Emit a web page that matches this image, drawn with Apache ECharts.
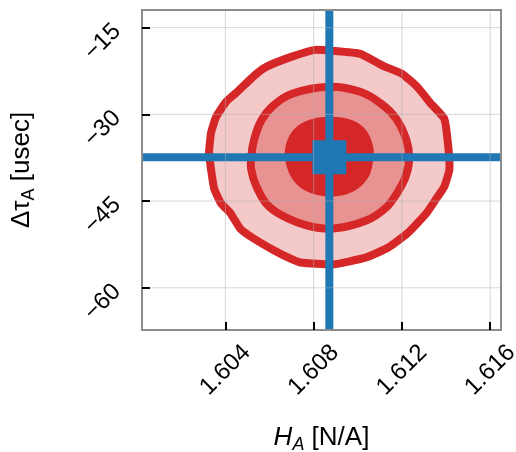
<!DOCTYPE html>
<html>
<head>
<meta charset="utf-8">
<script src="https://cdn.jsdelivr.net/npm/echarts@6/dist/echarts.min.js"></script>
<style>html,body{margin:0;padding:0;background:#fff}#c{width:516px;height:452px}</style>
</head>
<body>
<div id="c"></div>
<script>
// axis ranges and ticks
const xRange = [1.60022, 1.61649];
const yRange = [-67.3, -11.95];
const xTicks = [1.604, 1.608, 1.612, 1.616];
const xTickLabels = ['1.604', '1.608', '1.612', '1.616'];
const yTicks = [-60, -45, -30, -15];
const yTickLabels = ['\u221260', '\u221245', '\u221230', '\u221215'];

// injected (true) values
const truthH = 1.60871;
const truthTau = -37.42;

// contour levels (outer -> inner), [H_A, dtau_A]
const contourOuter = [[1.60807,-18.85],[1.60888,-19.02],[1.61011,-19.54],[1.61115,-21.61],[1.61201,-22.99],[1.61269,-25.24],[1.61328,-28.00],[1.61392,-30.76],[1.61410,-35.59],[1.61415,-39.56],[1.61392,-42.50],[1.61356,-44.57],[1.61310,-47.16],[1.61224,-50.61],[1.61138,-53.03],[1.61038,-54.75],[1.60888,-55.96],[1.60739,-55.62],[1.60693,-54.93],[1.60621,-53.55],[1.60521,-51.30],[1.60467,-49.75],[1.60421,-46.99],[1.60381,-45.43],[1.60349,-42.84],[1.60335,-39.56],[1.60326,-36.63],[1.60335,-33.18],[1.60358,-30.42],[1.60403,-27.83],[1.60449,-26.27],[1.60535,-23.17],[1.60585,-21.78],[1.60698,-20.06]];
const contourMiddle = [[1.60870,-25.24],[1.61011,-26.10],[1.61106,-28.17],[1.61174,-30.76],[1.61220,-34.39],[1.61233,-37.49],[1.61220,-40.43],[1.61188,-43.02],[1.61133,-45.95],[1.61038,-48.37],[1.60888,-49.75],[1.60771,-49.23],[1.60657,-47.50],[1.60585,-45.43],[1.60539,-42.33],[1.60517,-39.56],[1.60517,-37.32],[1.60530,-34.39],[1.60562,-31.11],[1.60616,-28.52],[1.60702,-26.44]];
const contourInner = [[1.60870,-31.11],[1.60966,-31.62],[1.61024,-33.18],[1.61052,-35.77],[1.61052,-37.84],[1.61034,-40.43],[1.60975,-42.67],[1.60888,-43.53],[1.60784,-42.84],[1.60721,-40.94],[1.60689,-37.84],[1.60693,-35.25],[1.60725,-33.00],[1.60784,-31.62]];

const FONT = 'Liberation Sans, Arial, sans-serif';
const RED = '#d62728';
const BLUE = '#1f77b4';

function contourSeries(pts, fill, z, smooth) {
  return {
    type: 'custom', coordinateSystem: 'cartesian2d', z: z, silent: true,
    data: pts,
    renderItem: function (params, api) {
      if (params.dataIndex !== 0) return null;
      const poly = pts.map(p => api.coord(p));
      return {
        type: 'polygon',
        shape: { points: poly, smooth: smooth },
        style: { fill: fill, stroke: RED, lineWidth: 8, lineJoin: 'round' }
      };
    }
  };
}

const chart = echarts.init(document.getElementById('c'), null, { renderer: 'canvas' });
chart.setOption({
  animation: false,
  backgroundColor: '#fff',
  grid: { left: 142, top: 10, width: 359, height: 320, containLabel: false, outerBoundsMode: 'none',
    show: true, borderColor: '#8c8c8c', borderWidth: 2, backgroundColor: 'transparent', z: 20 },
  xAxis: {
    type: 'value', min: xRange[0], max: xRange[1],
    axisLine: { show: false },
    splitLine: { show: false },
    axisTick: { show: true, inside: true, length: 8, lineStyle: { color: '#000', width: 2 }, customValues: xTicks },
    axisLabel: { customValues: xTicks, rotate: 45, align: 'center', verticalAlign: 'middle', margin: 40,
      fontFamily: FONT, fontSize: 24, color: '#000',
      formatter: v => xTickLabels[xTicks.findIndex(t => Math.abs(t - v) < 1e-9)] },
    name: '{i|H}{s|A}{n| [N/A]}',
    nameLocation: 'middle', nameGap: 92,
    nameTextStyle: { fontFamily: FONT, color: '#000', verticalAlign: 'top',
      rich: {
        i: { fontFamily: FONT, fontSize: 26, fontStyle: 'italic', lineHeight: 32, color: '#000' },
        s: { fontFamily: FONT, fontSize: 18, fontStyle: 'italic', lineHeight: 16, verticalAlign: 'bottom', color: '#000' },
        n: { fontFamily: FONT, fontSize: 26, lineHeight: 32, color: '#000' }
      } },
    z: 30
  },
  yAxis: {
    type: 'value', min: yRange[0], max: yRange[1],
    axisLine: { show: false },
    splitLine: { show: false },
    axisTick: { show: true, inside: true, length: 8, lineStyle: { color: '#000', width: 2 }, customValues: yTicks },
    axisLabel: { customValues: yTicks, rotate: 45, margin: 25,
      fontFamily: FONT, fontSize: 24, color: '#000',
      formatter: v => yTickLabels[yTicks.findIndex(t => Math.abs(t - v) < 1e-9)] },
    name: '{n|\u0394\u03c4}{s|A}{n| [usec]}',
    nameLocation: 'middle', nameGap: 104, nameRotate: 90,
    nameTextStyle: { fontFamily: FONT, color: '#000',
      rich: {
        s: { fontFamily: FONT, fontSize: 18, lineHeight: 16, verticalAlign: 'bottom', color: '#000' },
        n: { fontFamily: FONT, fontSize: 26, lineHeight: 32, color: '#000' }
      } },
    z: 30
  },
  series: [
    contourSeries(contourOuter, '#f3c9ca', 2, 0.15),
    contourSeries(contourMiddle, '#e89291', 3, 0.3),
    contourSeries(contourInner, RED, 4, 0.3),
    { type: 'line', z: 5, symbol: 'none', silent: true, data: [[truthH, yRange[0]], [truthH, yRange[1]]],
      lineStyle: { color: BLUE, width: 8, cap: 'butt' } },
    { type: 'line', z: 5, symbol: 'none', silent: true, data: [[xRange[0], truthTau], [xRange[1], truthTau]],
      lineStyle: { color: BLUE, width: 8, cap: 'butt' } },
    { type: 'scatter', z: 6, silent: true, symbol: 'rect', symbolSize: 34, data: [[truthH, truthTau]],
      itemStyle: { color: BLUE, opacity: 1 } },
    // grid lines drawn above the data, as in the reference
    { type: 'custom', coordinateSystem: 'cartesian2d', z: 10, silent: true,
      data: xTicks.map(v => [v, yRange[0]]),
      renderItem: function (params, api) {
        const cs = params.coordSys;
        const x = api.coord([api.value(0), yRange[0]])[0];
        return { type: 'line', shape: { x1: x, y1: cs.y, x2: x, y2: cs.y + cs.height },
          style: { stroke: 'rgba(176,176,176,0.5)', lineWidth: 1 } };
      } },
    { type: 'custom', coordinateSystem: 'cartesian2d', z: 10, silent: true,
      data: yTicks.map(v => [xRange[0], v]),
      renderItem: function (params, api) {
        const cs = params.coordSys;
        const y = api.coord([xRange[0], api.value(1)])[1];
        return { type: 'line', shape: { x1: cs.x, y1: y, x2: cs.x + cs.width, y2: y },
          style: { stroke: 'rgba(176,176,176,0.5)', lineWidth: 1 } };
      } }
  ]
});
</script>
</body>
</html>
